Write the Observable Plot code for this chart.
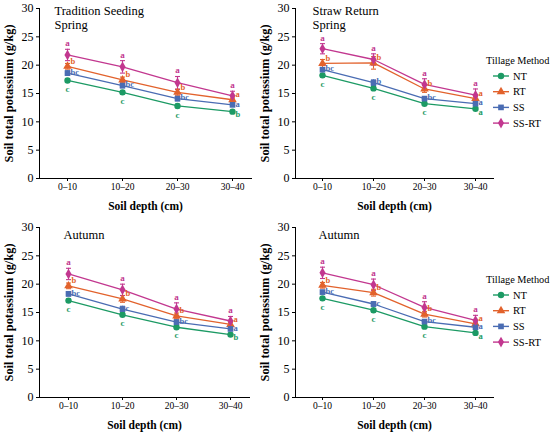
<!DOCTYPE html>
<html><head><meta charset="utf-8">
<script src="https://cdn.jsdelivr.net/npm/d3@7"></script>
<script src="https://cdn.jsdelivr.net/npm/@observablehq/plot@0.6"></script>
<style>
body{margin:0;background:#fff;}
#wrap{position:relative;width:550px;height:432px;overflow:hidden;background:#fff;font-family:"Liberation Serif","Liberation Sans",Arial,sans-serif;}
.panel,.legend{position:absolute;}
#wrap svg, #wrap svg text, #wrap svg g{font-family:"Liberation Serif","Liberation Sans",Arial,sans-serif !important;}
g[aria-label="y-axis tick label"]{font-size:12px;}
g[aria-label="x-axis tick label"]{font-size:9.5px;}
g[aria-label="x-axis label"]{font-size:11.5px;font-weight:bold;}
g[aria-label="y-axis label"]{font-size:12.4px;font-weight:bold;}
</style>
</head><body>
<div id="wrap"></div>
<script>
// ---- data ----
const depths = ["0\u201310", "10\u201320", "20\u201330", "30\u201340"];
const methods = ["NT", "RT", "SS", "SS-RT"];
const colors = ["#1c9a64", "#e2622c", "#4a6cb3", "#c2378f"];
const symbols = ["circle", "triangle", "square", "diamond"];
const yTicks = [0, 5, 10, 15, 20, 25, 30];
const panelTitles = ["Tradition Seeding\nSpring", "Straw Return\nSpring", "Autumn", "Autumn"];
const legendTitle = "Tillage Method";
const xLabel = "Soil depth (cm)";
const yLabel = "Soil total potassium (g/kg)";

// values per panel: NT, RT, SS, SS-RT
const p1NT = [17.3, 15.2, 12.8, 11.8], p1RT = [19.8, 17.4, 15.2, 13.9], p1SS = [18.6, 16.4, 14.1, 13.0], p1SSRT = [21.8, 19.7, 16.9, 14.6];
const p2NT = [18.2, 15.9, 13.2, 12.3], p2RT = [20.3, 20.4, 15.8, 14.1], p2SS = [19.2, 16.9, 14.1, 13.2], p2SSRT = [22.9, 21.0, 16.6, 14.7];
const p3NT = [17.1, 14.6, 12.4, 11.1], p3RT = [19.7, 17.4, 14.4, 12.9], p3SS = [18.3, 15.6, 13.3, 12.1], p3SSRT = [21.8, 19.0, 15.6, 13.5];
const p4NT = [17.5, 15.4, 12.5, 11.4], p4RT = [19.8, 18.5, 14.7, 13.0], p4SS = [18.6, 16.5, 13.4, 12.4], p4SSRT = [22.0, 19.9, 15.9, 13.6];

// standard errors
const p1eNT = [0.3, 0.3, 0.3, 0.2], p1eRT = [0.5, 0.5, 0.5, 0.3], p1eSS = [0.4, 0.4, 0.4, 0.3], p1eSSRT = [1.0, 1.1, 1.1, 0.8];
const p2eNT = [0.3, 0.3, 0.3, 0.2], p2eRT = [0.7, 1.1, 0.6, 0.4], p2eSS = [0.3, 0.5, 0.3, 0.3], p2eSSRT = [0.9, 1.0, 1.0, 1.1];
const p3eNT = [0.3, 0.3, 0.2, 0.2], p3eRT = [0.5, 0.6, 0.5, 0.3], p3eSS = [0.4, 0.5, 0.4, 0.3], p3eSSRT = [1.0, 1.0, 1.1, 0.8];
const p4eNT = [0.3, 0.3, 0.2, 0.2], p4eRT = [0.5, 0.6, 0.5, 0.3], p4eSS = [0.3, 0.4, 0.3, 0.3], p4eSSRT = [1.0, 1.0, 1.0, 0.9];

// significance letters
const p1lNT = ["c", "c", "c", "b"], p1lRT = ["b", "b", "b", "a"], p1lSS = ["bc", "bc", "bc", "a"], p1lSSRT = ["a", "a", "a", "a"];
const p2lNT = ["c", "c", "c", "a"], p2lRT = ["b", "b", "b", "a"], p2lSS = ["bc", "b", "bc", "a"], p2lSSRT = ["a", "a", "a", "a"];
const p3lNT = ["c", "c", "c", "b"], p3lRT = ["b", "b", "b", "a"], p3lSS = ["bc", "c", "bc", "a"], p3lSSRT = ["a", "a", "a", "a"];
const p4lNT = ["c", "c", "c", "a"], p4lRT = ["b", "b", "b", "a"], p4lSS = ["bc", "c", "bc", "a"], p4lSSRT = ["a", "a", "a", "a"];

const panelValues = [[p1NT, p1RT, p1SS, p1SSRT], [p2NT, p2RT, p2SS, p2SSRT], [p3NT, p3RT, p3SS, p3SSRT], [p4NT, p4RT, p4SS, p4SSRT]];
const panelErrors = [[p1eNT, p1eRT, p1eSS, p1eSSRT], [p2eNT, p2eRT, p2eSS, p2eSSRT], [p3eNT, p3eRT, p3eSS, p3eSSRT], [p4eNT, p4eRT, p4eSS, p4eSSRT]];
const panelLetters = [[p1lNT, p1lRT, p1lSS, p1lSSRT], [p2lNT, p2lRT, p2lSS, p2lSSRT], [p3lNT, p3lRT, p3lSS, p3lSSRT], [p4lNT, p4lRT, p4lSS, p4lSSRT]];

// ---- layout ----
const FONT = '"Liberation Serif", "Liberation Sans", Arial, sans-serif';
const boxes = [
  {left: 0,   top: 0,   w: 270, h: 216, ml: 39, mr: 19, mt: 8,  mb: 38, il: 28, ir: 19, tdx: 15, tdy: -3, legend: false},
  {left: 257, top: 0,   w: 293, h: 216, ml: 38, mr: 57, mt: 8,  mb: 38, il: 26, ir: 17, tdx: 17, tdy: -3, legend: true},
  {left: 0,   top: 216, w: 270, h: 216, ml: 39, mr: 21, mt: 11, mb: 35, il: 28, ir: 18, tdx: 24, tdy: 2, legend: false},
  {left: 257, top: 216, w: 293, h: 216, ml: 38, mr: 57, mt: 11, mb: 35, il: 26, ir: 17, tdx: 23, tdy: 2, legend: true}
];
const rightDy = {NT: 3, RT: -5.5, SS: -1};

const capSymbol = {draw(ctx, size) { const w = Math.sqrt(size / Math.PI); ctx.moveTo(-w, 0); ctx.lineTo(w, 0); }};
const wrap = document.getElementById("wrap");
const d3sym = {circle: d3.symbolCircle, triangle: d3.symbolTriangle, square: d3.symbolSquare, diamond: d3.symbolDiamond};

boxes.forEach((b, p) => {
  const rows = [];
  methods.forEach((m, j) => depths.forEach((d, i) => rows.push({
    depth: d, idx: i, method: m,
    value: panelValues[p][j][i], err: panelErrors[p][j][i], letter: panelLetters[p][j][i]
  })));
  const above = rows.filter(r => r.method === "SS-RT");
  const below = rows.filter(r => r.method === "NT" && r.idx < 3);
  const right = rows.filter(r => r.method !== "SS-RT" && !(r.method === "NT" && r.idx < 3));
  const rightMarks = Object.keys(rightDy).map(m => Plot.text(right.filter(r => r.method === m),
    {x: "depth", y: "value", text: "letter", fill: "method", dx: 3, dy: rightDy[m], textAnchor: "start", fontSize: 8.5, fontWeight: "bold"}));
  const chart = Plot.plot({
    width: b.w, height: b.h,
    marginLeft: b.ml, marginRight: b.mr, marginTop: b.mt, marginBottom: b.mb,
    style: {fontFamily: FONT, color: "black", background: "white", overflow: "visible"},
    x: {type: "point", domain: depths, padding: 0, insetLeft: b.il, insetRight: b.ir, tickSize: 3, tickPadding: 2,
        line: true, label: xLabel, labelAnchor: "center", labelOffset: 31, labelArrow: "none"},
    y: {domain: [0, 30], ticks: yTicks, tickSize: 3, tickPadding: 3, line: true,
        label: yLabel, labelAnchor: "center", labelOffset: 35, labelArrow: "none"},
    color: {domain: methods, range: colors},
    symbol: {domain: methods, range: symbols},
    marks: [
      Plot.line(rows, {x: "depth", y: "value", z: "method", stroke: "method", strokeWidth: 1.3}),
      Plot.ruleX(rows, {x: "depth", y1: r => r.value - r.err, y2: r => r.value + r.err, stroke: "method", strokeWidth: 1.1}),
      Plot.dot(rows, {x: "depth", y: r => r.value + r.err, symbol: capSymbol, r: 2.5, stroke: "method", fill: "none", strokeWidth: 1.1}),
      Plot.dot(rows, {x: "depth", y: r => r.value - r.err, symbol: capSymbol, r: 2.5, stroke: "method", fill: "none", strokeWidth: 1.1}),
      Plot.dot(rows, {x: "depth", y: "value", symbol: "method", fill: "method", r: 3.2, stroke: "none"}),
      Plot.text(above, {x: "depth", y: r => r.value + r.err, text: "letter", fill: "method", dy: -6, fontSize: 9, fontWeight: "bold"}),
      Plot.text(below, {x: "depth", y: r => r.value - r.err, text: "letter", fill: "method", dy: 7, fontSize: 9, fontWeight: "bold"}),
      ...rightMarks,
      Plot.text([panelTitles[p]], {frameAnchor: "top-left", text: d => d, dx: b.tdx, dy: b.tdy, textAnchor: "start", lineAnchor: "top", fontSize: 12.5, lineHeight: 1.08})
    ]
  });
  const div = document.createElement("div");
  div.className = "panel";
  div.style.left = b.left + "px";
  div.style.top = b.top + "px";
  div.appendChild(chart);
  wrap.appendChild(div);

  if (b.legend) {
    const lg = document.createElement("div");
    lg.className = "legend";
    lg.style.left = (b.left + 226) + "px";
    lg.style.top = (b.top + b.mt + 44) + "px";
    wrap.appendChild(lg);
    const svg = d3.select(lg).append("svg").attr("width", 66).attr("height", 80)
      .style("font-family", FONT).style("overflow", "visible");
    svg.append("text").attr("x", 3).attr("y", 12).attr("font-size", 10.3).text(legendTitle);
    methods.forEach((m, j) => {
      const g = svg.append("g").attr("transform", `translate(0,${24 + j * 15.7})`);
      g.append("line").attr("x1", 10).attr("x2", 26).attr("stroke", colors[j]).attr("stroke-width", 1.4);
      g.append("path").attr("transform", "translate(18,0)").attr("fill", colors[j])
        .attr("d", d3.symbol(d3sym[symbols[j]], 3.2 * 3.2 * Math.PI)());
      g.append("text").attr("x", 30).attr("y", 3.5).attr("font-size", 10.5).text(m);
    });
  }
});
</script>
</body></html>
